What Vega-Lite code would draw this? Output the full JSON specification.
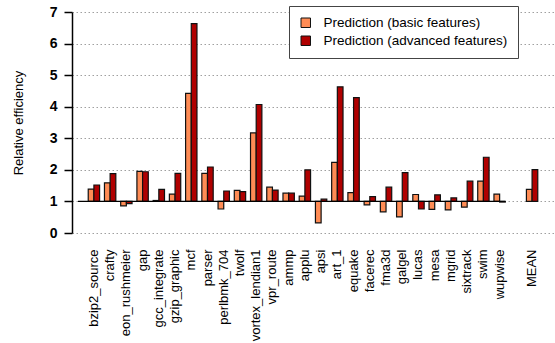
{
  "$schema": "https://vega.github.io/schema/vega-lite/v6.json",
  "autosize": "none",
  "width": 482,
  "height": 221,
  "padding": {"left": 72, "top": 12, "right": 1, "bottom": 110},
  "background": "white",
  "config": {
    "font": "Liberation Sans",
    "view": {"stroke": null},
    "axisY": {
      "title": "Relative efficiency",
      "titleFontSize": 13,
      "titleFontWeight": "normal",
      "titleColor": "#000000",
      "titlePadding": 24,
      "values": [0, 1, 2, 3, 4, 5, 6, 7],
      "labelOverlap": false,
      "labelFontSize": 14,
      "labelFontWeight": "bold",
      "labelColor": "#000000",
      "labelPadding": 7,
      "tickSize": 8,
      "tickColor": "#000000",
      "tickWidth": 1.5,
      "domainColor": "#000000",
      "domainWidth": 1.5,
      "grid": true,
      "gridColor": "#a0a0a0",
      "gridDash": [1.5, 2.5],
      "gridWidth": 1
    }
  },
  "datasets": {
    "bars": [
      {"bench": "bzip2_source", "series": "Prediction (basic features)", "value": 1.39},
      {"bench": "bzip2_source", "series": "Prediction (advanced features)", "value": 1.52},
      {"bench": "crafty", "series": "Prediction (basic features)", "value": 1.59},
      {"bench": "crafty", "series": "Prediction (advanced features)", "value": 1.88},
      {"bench": "eon_rushmeier", "series": "Prediction (basic features)", "value": 0.86},
      {"bench": "eon_rushmeier", "series": "Prediction (advanced features)", "value": 0.93},
      {"bench": "gap", "series": "Prediction (basic features)", "value": 1.95},
      {"bench": "gap", "series": "Prediction (advanced features)", "value": 1.94},
      {"bench": "gcc_integrate", "series": "Prediction (basic features)", "value": 1.03},
      {"bench": "gcc_integrate", "series": "Prediction (advanced features)", "value": 1.38},
      {"bench": "gzip_graphic", "series": "Prediction (basic features)", "value": 1.23},
      {"bench": "gzip_graphic", "series": "Prediction (advanced features)", "value": 1.89},
      {"bench": "mcf", "series": "Prediction (basic features)", "value": 4.42},
      {"bench": "mcf", "series": "Prediction (advanced features)", "value": 6.63},
      {"bench": "parser", "series": "Prediction (basic features)", "value": 1.89},
      {"bench": "parser", "series": "Prediction (advanced features)", "value": 2.09},
      {"bench": "perlbmk_704", "series": "Prediction (basic features)", "value": 0.76},
      {"bench": "perlbmk_704", "series": "Prediction (advanced features)", "value": 1.33},
      {"bench": "twolf", "series": "Prediction (basic features)", "value": 1.35},
      {"bench": "twolf", "series": "Prediction (advanced features)", "value": 1.31},
      {"bench": "vortex_lendian1", "series": "Prediction (basic features)", "value": 3.17},
      {"bench": "vortex_lendian1", "series": "Prediction (advanced features)", "value": 4.07},
      {"bench": "vpr_route", "series": "Prediction (basic features)", "value": 1.45},
      {"bench": "vpr_route", "series": "Prediction (advanced features)", "value": 1.36},
      {"bench": "ammp", "series": "Prediction (basic features)", "value": 1.26},
      {"bench": "ammp", "series": "Prediction (advanced features)", "value": 1.26},
      {"bench": "applu", "series": "Prediction (basic features)", "value": 1.17},
      {"bench": "applu", "series": "Prediction (advanced features)", "value": 2.0},
      {"bench": "apsi", "series": "Prediction (basic features)", "value": 0.32},
      {"bench": "apsi", "series": "Prediction (advanced features)", "value": 1.07},
      {"bench": "art_1", "series": "Prediction (basic features)", "value": 2.24},
      {"bench": "art_1", "series": "Prediction (advanced features)", "value": 4.63},
      {"bench": "equake", "series": "Prediction (basic features)", "value": 1.28},
      {"bench": "equake", "series": "Prediction (advanced features)", "value": 4.29},
      {"bench": "facerec", "series": "Prediction (basic features)", "value": 0.89},
      {"bench": "facerec", "series": "Prediction (advanced features)", "value": 1.15},
      {"bench": "fma3d", "series": "Prediction (basic features)", "value": 0.67},
      {"bench": "fma3d", "series": "Prediction (advanced features)", "value": 1.45},
      {"bench": "galgel", "series": "Prediction (basic features)", "value": 0.51},
      {"bench": "galgel", "series": "Prediction (advanced features)", "value": 1.91},
      {"bench": "lucas", "series": "Prediction (basic features)", "value": 1.22},
      {"bench": "lucas", "series": "Prediction (advanced features)", "value": 0.76},
      {"bench": "mesa", "series": "Prediction (basic features)", "value": 0.75},
      {"bench": "mesa", "series": "Prediction (advanced features)", "value": 1.21},
      {"bench": "mgrid", "series": "Prediction (basic features)", "value": 0.73},
      {"bench": "mgrid", "series": "Prediction (advanced features)", "value": 1.11},
      {"bench": "sixtrack", "series": "Prediction (basic features)", "value": 0.82},
      {"bench": "sixtrack", "series": "Prediction (advanced features)", "value": 1.64},
      {"bench": "swim", "series": "Prediction (basic features)", "value": 1.64},
      {"bench": "swim", "series": "Prediction (advanced features)", "value": 2.4},
      {"bench": "wupwise", "series": "Prediction (basic features)", "value": 1.23},
      {"bench": "wupwise", "series": "Prediction (advanced features)", "value": 0.98},
      {"bench": "MEAN", "series": "Prediction (basic features)", "value": 1.38},
      {"bench": "MEAN", "series": "Prediction (advanced features)", "value": 2.01}
    ],
    "baseline": [
      {"from": "bzip2_source", "to": "wupwise", "level": 1}
    ]
  },
  "layer": [
    {
      "data": {"name": "bars"},
      "mark": {"type": "bar", "stroke": "#111111", "strokeWidth": 1.2},
      "encoding": {
        "x": {
          "field": "bench",
          "type": "nominal",
          "sort": null,
          "scale": {
            "domain": ["bzip2_source","crafty","eon_rushmeier","gap","gcc_integrate","gzip_graphic","mcf","parser","perlbmk_704","twolf","vortex_lendian1","vpr_route","ammp","applu","apsi","art_1","equake","facerec","fma3d","galgel","lucas","mesa","mgrid","sixtrack","swim","wupwise"," ","MEAN"],
            "paddingInner": 0.3,
            "paddingOuter": 1.1
          },
          "axis": {
            "title": null,
            "labelAngle": -90,
            "labelAlign": "right",
            "labelBaseline": "middle",
            "labelFontSize": 13,
            "labelColor": "#000000",
            "labelPadding": 16,
            "ticks": false,
            "domain": false,
            "grid": false
          }
        },
        "xOffset": {
          "field": "series",
          "type": "nominal",
          "sort": ["Prediction (basic features)", "Prediction (advanced features)"],
          "scale": {"paddingInner": 0, "paddingOuter": 0}
        },
        "y": {
          "field": "value",
          "type": "quantitative",
          "title": "Relative efficiency",
          "scale": {"domain": [0, 7], "nice": false}
        },
        "y2": {"datum": 1},
        "color": {
          "field": "series",
          "type": "nominal",
          "sort": ["Prediction (basic features)", "Prediction (advanced features)"],
          "scale": {
            "domain": ["Prediction (basic features)", "Prediction (advanced features)"],
            "range": ["#ff8c55", "#b00000"]
          },
          "legend": {
            "title": null,
            "orient": "none",
            "legendX": 217,
            "legendY": -6,
            "symbolType": "square",
            "symbolSize": 90,
            "symbolStrokeColor": "#111111",
            "symbolStrokeWidth": 1,
            "symbolOpacity": 1,
            "labelFontSize": 13.5,
            "labelLimit": 0,
            "labelColor": "#000000",
            "labelOffset": 11,
            "rowPadding": 3,
            "padding": 10,
            "strokeColor": "#444444",
            "fillColor": "white",
            "cornerRadius": 0
          }
        }
      }
    },
    {
      "data": {"name": "baseline"},
      "mark": {"type": "rule", "color": "#000000", "strokeWidth": 1.2},
      "encoding": {
        "x": {"field": "from", "type": "nominal", "bandPosition": -0.9},
        "x2": {"field": "to", "bandPosition": 1},
        "y": {"field": "level", "type": "quantitative", "title": "Relative efficiency"}
      }
    }
  ]
}
